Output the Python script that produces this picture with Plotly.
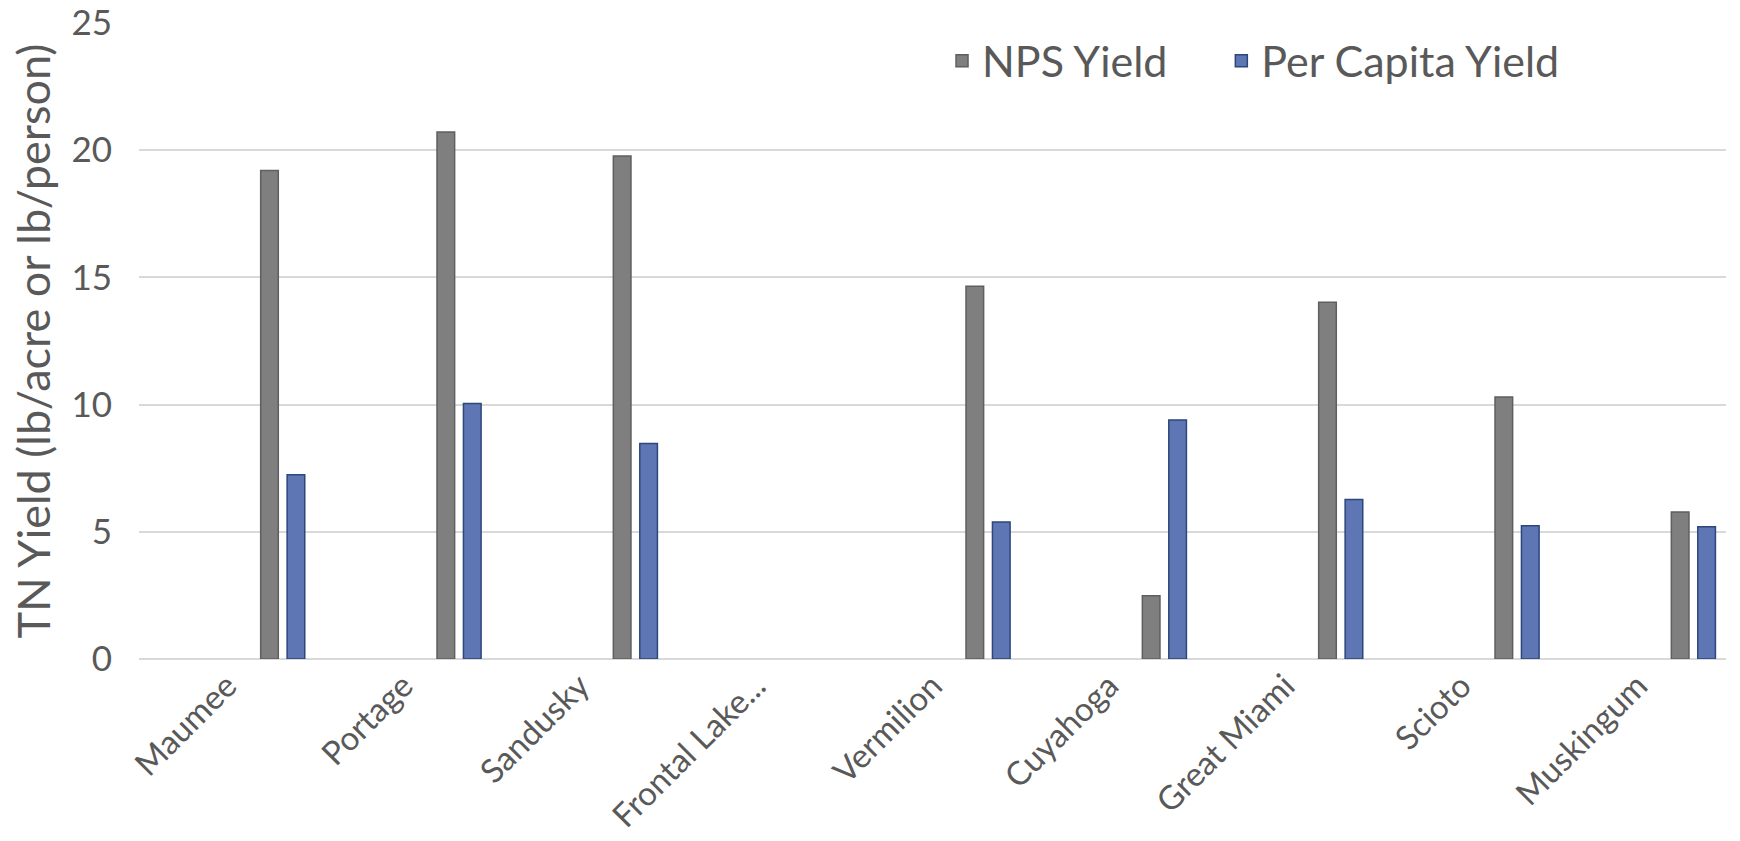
import plotly.graph_objects as go

# Watershed categories and total nitrogen yields
watersheds = ["Maumee", "Portage", "Sandusky", "Frontal Lake...", "Vermilion",
              "Cuyahoga", "Great Miami", "Scioto", "Muskingum"]
nps_yield = [19.2, 20.72, 19.77, None, 14.65, 2.49, 14.02, 10.30, 5.78]
per_capita_yield = [7.24, 10.04, 8.47, None, 5.39, 9.39, 6.27, 5.24, 5.20]
y_ticks = [0, 5, 10, 15, 20, 25]

TEXT = "#595959"
FONT = "Lato"

fig = go.Figure()
fig.add_trace(go.Bar(
    x=watersheds, y=nps_yield, name="NPS Yield",
    offset=0.19, width=0.10, legend="legend",
    marker=dict(color="#7f7f7f", line=dict(color="#5f5f5f", width=1.5)),
))
fig.add_trace(go.Bar(
    x=watersheds, y=per_capita_yield, name="Per Capita Yield",
    offset=0.34, width=0.10, legend="legend2",
    marker=dict(color="#5f76b4", line=dict(color="#2c477a", width=1.5)),
))

legend_style = dict(
    orientation="h", y=0.995, xanchor="left", yanchor="top",
    font=dict(size=43, color=TEXT, family=FONT),
    bgcolor="rgba(0,0,0,0)", itemwidth=30,
)

fig.update_layout(
    width=1740, height=841,
    margin=dict(l=139, r=14, t=23, b=182),
    paper_bgcolor="white", plot_bgcolor="white",
    barmode="overlay",
    font=dict(family=FONT, color=TEXT, size=30),
    showlegend=True,
    legend=dict(x=0.506, **legend_style),
    legend2=dict(x=0.682, **legend_style),
    xaxis=dict(
        type="category", tickangle=-45, showgrid=False, zeroline=False,
        showline=False, ticks="", tickfont=dict(size=33, color=TEXT, family=FONT),
        range=[-0.5, 8.5], automargin=False,
    ),
    yaxis=dict(
        range=[0, 25], tickvals=y_ticks, showgrid=True, gridcolor="#d9d9d9",
        gridwidth=1.5, zeroline=True, zerolinecolor="#d9d9d9", zerolinewidth=1.5,
        showline=False, ticks="", tickfont=dict(size=35, color=TEXT, family=FONT),
        ticklabelstandoff=26, automargin=False,
        title=dict(text="TN Yield (lb/acre or lb/person)",
                   font=dict(size=45, color=TEXT, family=FONT), standoff=6),
    ),
)

fig.write_html("out.html")
